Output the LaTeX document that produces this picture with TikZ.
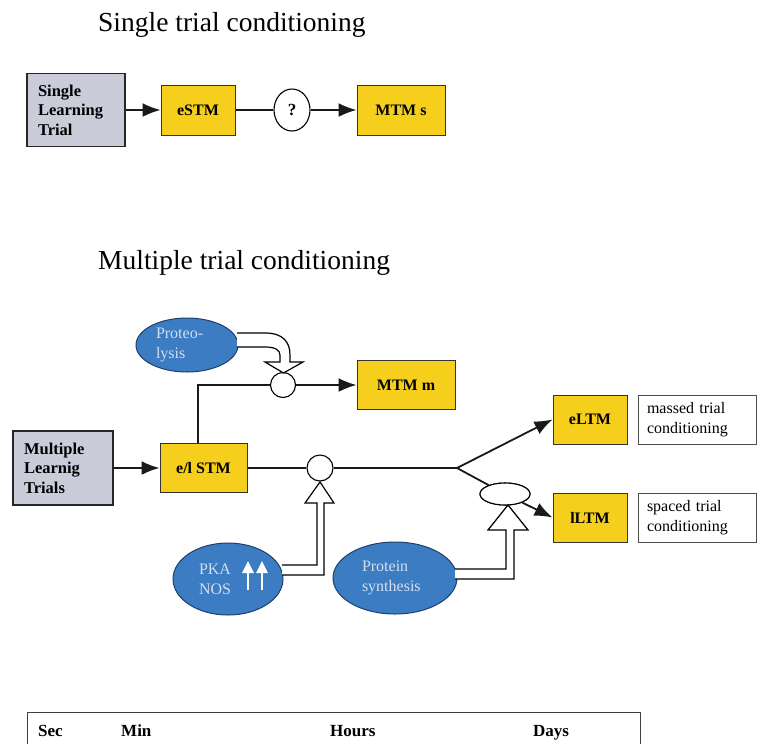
\documentclass[tikz,border=0pt]{standalone}
\usepackage{fontspec}
\setmainfont{Liberation Serif}
\usetikzlibrary{shapes.geometric,arrows.meta}
\definecolor{ybox}{HTML}{F6CF1C}
\definecolor{gbox}{HTML}{CBCCDA}
\definecolor{bell}{HTML}{3B7CC2}
\definecolor{bedge}{HTML}{1F3F6F}
\definecolor{btext}{HTML}{D3DEF0}
\tikzset{
  ybx/.style={draw=black!80, line width=1pt, fill=ybox, font=\fontsize{16}{18}\selectfont\bfseries, inner sep=0pt},
  gbx/.style={draw=black!85, line width=1.4pt, fill=gbox, font=\fontsize{16.5}{19.5}\selectfont\bfseries, align=left, inner sep=0pt},
  wbx/.style={draw=black!70, line width=0.8pt, fill=white, font=\fontsize{16}{19.5}\selectfont, align=left, inner sep=0pt},
  bel/.style={ellipse, draw=bedge, line width=1pt, fill=bell, text=btext, font=\fontsize{16}{20}\selectfont, align=left, inner sep=0pt},
  wel/.style={ellipse, draw=black, line width=1.1pt, fill=white, inner sep=0pt},
  ttl/.style={anchor=west, font=\fontsize{27.5}{30}\selectfont, inner sep=0pt},
  conn/.style={line width=1.8pt, black!90},
  arr/.style={conn, -{Latex[length=18pt,width=14pt]}},
  hol/.style={draw=black, line width=1.2pt, fill=white, line join=miter},
  tbl/.style={font=\fontsize{17}{17}\selectfont\bfseries, anchor=base west, inner sep=0pt},
}
\begin{document}
\begin{tikzpicture}[x=1pt,y=-1pt]
\useasboundingbox (0,0) rectangle (757,745);
\fill[white] (0,0) rectangle (757,745);
% titles
\node[ttl] (t1) at (98,25) {Single trial conditioning};
\node[ttl] (t2) at (98,263) {Multiple trial conditioning};
% single trial
\node[gbx, minimum width=98pt, minimum height=73pt, text width=76pt] (slt) at (76,110) {Single\\Learning\\Trial};
\node[ybx, minimum width=74pt, minimum height=50pt] (estm) at (198,110) {eSTM};
\node[wel, minimum width=36pt, minimum height=42pt, font=\fontsize{17}{17}\selectfont\bfseries] (q) at (292,110) {?};
\node[ybx, minimum width=88pt, minimum height=50pt] (mtms) at (401,110) {MTM s};
\draw[arr] (slt.east) -- (estm.west);
\draw[conn] (estm.east) -- (q.west);
\draw[arr] (q.east) -- (mtms.west);
% multiple trial
\node[bel, minimum width=102pt, minimum height=54pt, text width=62pt] (prot) at (187,345) {Proteo-\\lysis};
\node[wel, minimum size=25pt, circle] (c1) at (283,385) {};
\node[ybx, minimum width=98pt, minimum height=49pt] (mtmm) at (406,385) {MTM m};
\node[gbx, minimum width=100pt, minimum height=74pt, text width=78pt] (mlt) at (63,468) {Multiple\\Learnig\\Trials};
\node[ybx, minimum width=87pt, minimum height=49pt] (els) at (203.5,468) {e/l STM};
\node[wel, minimum size=26pt, circle] (c2) at (320,468) {};
\coordinate (br) at (457,468);
\coordinate (up) at (198,385);
\node[ybx, minimum width=74pt, minimum height=49pt] (eltm) at (590,419.5) {eLTM};
\node[ybx, minimum width=74pt, minimum height=49pt] (lltm) at (590,517.5) {lLTM};
\node[wbx, minimum width=118pt, minimum height=49pt, text width=100pt] (mass) at (697,419.5) {massed trial\\conditioning};
\node[wbx, minimum width=118pt, minimum height=49pt, text width=100pt] (spac) at (697,517.5) {spaced trial\\conditioning};
\node[wel, minimum width=50pt, minimum height=22pt] (se) at (505,494) {};
\node[bel, minimum width=110pt, minimum height=72pt, text width=58pt] (pka) at (228,579) {PKA\\NOS};
\node[bel, minimum width=124pt, minimum height=72pt, text width=66pt] (ps) at (395,578) {Protein\\synthesis};
% connectors
\draw[arr] (mlt.east) -- (els.west);
\draw[conn] (els.north -| up) -- (up) -- (c1.west);
\draw[arr] (c1.east) -- (mtmm.west);
\draw[conn] (els.east) -- (c2.west);
\draw[conn] (c2.east) -- (br);
\draw[arr] (br) -- (eltm.west);
\draw[conn] (br) -- (se);
\draw[arr] (se) -- (lltm.west);
\node[wel, minimum width=50pt, minimum height=22pt] at (se) {};
% hollow arrows
\draw[hol] (237,333) -- (265,333) .. controls (283,333) and (290,342) .. (290,355)
  -- (290,362) -- (303,362) -- (283.5,373) -- (265,362) -- (280,362) -- (280,355)
  .. controls (280,350) and (275,347) .. (265,347) -- (237,347);
\draw[hol] (282,565) -- (317,565) -- (317,503) -- (305,503) -- (320,482) -- (334,503)
  -- (324,503) -- (324,575) -- (282,575);
\draw[hol] (455,569) -- (506,569) -- (506,530) -- (488,530) -- (508,505) -- (528,530)
  -- (514,530) -- (514,579) -- (455,579);
% small white arrows in PKA
\foreach \xx in {248,262}{
  \draw[white, line width=1.6pt] (\xx,590) -- (\xx,572);
  \fill[white] (\xx-6,573) -- (\xx,561) -- (\xx+6,573) -- cycle;
}
% time table
\draw[black!75, line width=1pt] (27,744) -- (27,712) -- (640,712) -- (640,744);
\node[tbl] (sec) at (38,736) {Sec};
\node[tbl] (min) at (121,736) {Min};
\node[tbl] (hrs) at (330,736) {Hours};
\node[tbl] (dys) at (533,736) {Days};
\end{tikzpicture}
\end{document}
